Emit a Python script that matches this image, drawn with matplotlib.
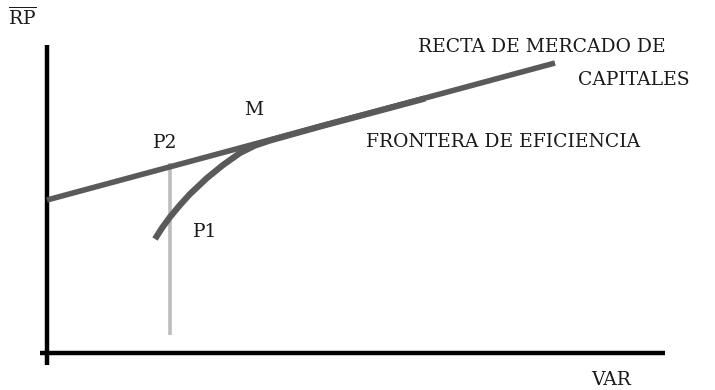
import matplotlib
matplotlib.use("Agg")
import matplotlib.pyplot as plt

plt.rcParams["mathtext.fontset"] = "custom"
plt.rcParams["mathtext.rm"] = "DejaVu Serif"

# Data (units: risk on x, expected return on y, origin at axes corner)
cml_x = [0, 508]
cml_y = [153, 290]
front_x = [108, 115, 123, 133, 143, 160, 176, 193, 208, 223, 273, 323, 378]
front_y = [114, 125, 136, 148, 159, 175, 188, 200, 207.5, 212.5, 226.5, 239.8, 254.5]
p_line_x = [123, 123]
p_line_y = [18, 190]
yaxis_x = [0, 0]
yaxis_y = [-12, 308]
xaxis_x = [-7, 618]
xaxis_y = [0, 0]

labels = [
    (r"$\overline{\mathrm{RP}}$", -25, 335),
    ("M", 207, 243),
    ("P2", 118, 210),
    ("P1", 158, 121),
    ("RECTA DE MERCADO DE", 495, 306),
    ("CAPITALES", 587, 273),
    ("FRONTERA DE EFICIENCIA", 456, 211),
    ("VAR", 564, -27),
]

fig = plt.figure(figsize=(7.15, 3.9), dpi=100)
ax = fig.add_axes([0, 0, 1, 1])
ax.set_xlim(-47, 715 - 47)
ax.set_ylim(353 - 390, 353)
ax.axis("off")

ax.plot(yaxis_x, yaxis_y, color="black", lw=3.2, solid_capstyle="butt")
ax.plot(xaxis_x, xaxis_y, color="black", lw=3.2, solid_capstyle="butt")
ax.plot(p_line_x, p_line_y, color="#bdbdbd", lw=2.6, solid_capstyle="butt")
ax.plot(cml_x, cml_y, color="#5a5a5a", lw=4, solid_capstyle="butt")
ax.plot(front_x, front_y, color="#5a5a5a", lw=4.5, solid_capstyle="butt",
        solid_joinstyle="round")

for txt, x, y in labels:
    ax.text(x, y, txt, fontsize=13.5, family="DejaVu Serif", color="#1a1a1a",
            ha="center", va="center")

fig.savefig("out.png", dpi=100)
